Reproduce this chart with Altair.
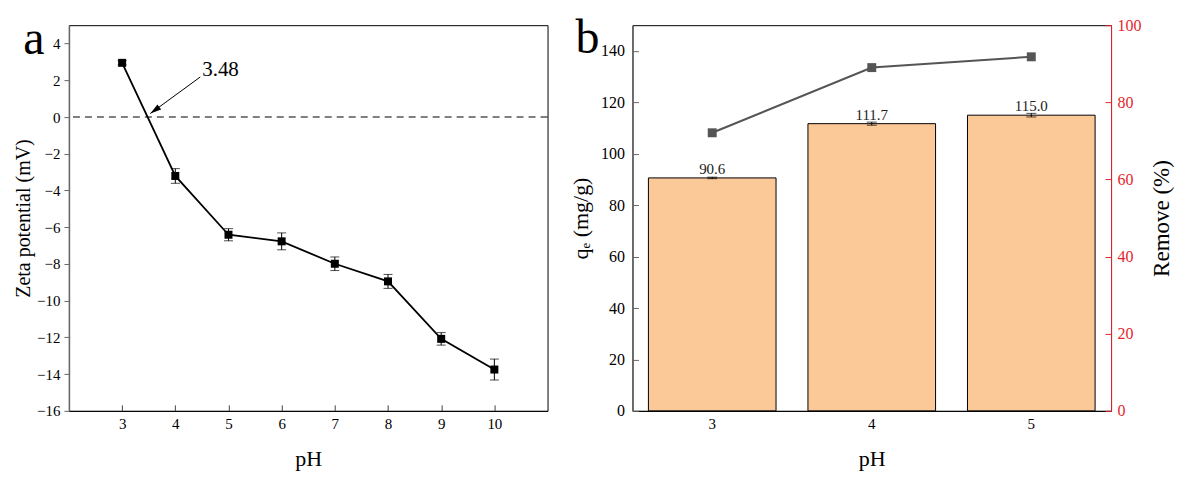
import altair as alt
import pandas as pd

FONT = "Liberation Serif"

# ---------------- Panel a data ----------------
ph_a = [3, 4, 5, 6, 7, 8, 9, 10]
zeta = [2.95, -3.21, -6.41, -6.77, -7.99, -8.95, -12.08, -13.75]
zeta_err = [0.12, 0.40, 0.33, 0.46, 0.37, 0.38, 0.34, 0.57]
x_ticks_a = [3, 4, 5, 6, 7, 8, 9, 10]
y_ticks_a = [-16, -14, -12, -10, -8, -6, -4, -2, 0, 2, 4]
zero_label = ["3.48"]
zero_label_x = [4.85]
zero_label_y = [2.55]
arrow_x = [4.47, 3.53]
arrow_y = [2.18, 0.19]

# ---------------- Panel b data ----------------
ph_b = ["3", "4", "5"]
qe = [90.6, 111.7, 115.0]
qe_err = [0.3, 0.6, 0.7]
qe_labels = ["90.6", "111.7", "115.0"]
removal = [72.1, 89.0, 91.8]
y_ticks_b = [0, 20, 40, 60, 80, 100, 120, 140]
y_ticks_b_right = [0, 20, 40, 60, 80, 100]

W, H = 479, 386
RED = "#E4262B"
GRAY_AX = "#666666"

df_a = pd.DataFrame({
    "pH": ph_a, "zeta": zeta,
    "lo": [v - e for v, e in zip(zeta, zeta_err)],
    "hi": [v + e for v, e in zip(zeta, zeta_err)],
})
df_arrow = pd.DataFrame({"pH": arrow_x, "zeta": arrow_y, "o": [0, 1]})
df_tip = pd.DataFrame({"pH": arrow_x[1:], "zeta": arrow_y[1:]})
df_lab = pd.DataFrame({"pH": zero_label_x, "zeta": zero_label_y, "t": zero_label})

xs_a = alt.Scale(domain=[2, 11], nice=False, zero=False)
ys_a = alt.Scale(domain=[-16, 5], nice=False, zero=False)

x_axis_a = alt.Axis(values=x_ticks_a, title="pH", tickSize={"expr": "-6"},
                    tickColor="#444", domainColor="black", labelPadding=12,
                    titlePadding=17, titleFontSize=22, labelFontSize=15, grid=False)
y_axis_a = alt.Axis(values=y_ticks_a, title="Zeta potential (mV)", tickSize=5,
                    tickColor=GRAY_AX, domainColor=GRAY_AX, domainWidth=1.5,
                    labelPadding=4, titlePadding=3, titleFontSize=20,
                    labelFontSize=15, grid=False)

XA = alt.X("pH:Q", scale=xs_a, axis=x_axis_a)


def YA(field):
    return alt.Y(field, scale=ys_a, axis=y_axis_a)


base_a = alt.Chart(df_a)
zero_rule = alt.Chart(pd.DataFrame({"zeta": [0]})).mark_rule(
    color="black", strokeDash=[7, 5], strokeWidth=1
).encode(y=YA("zeta:Q"))
line_a = base_a.mark_line(color="black", strokeWidth=1.8).encode(x=XA, y=YA("zeta:Q"))
err_a = base_a.mark_rule(color="black", strokeWidth=1).encode(
    x=XA, y=YA("lo:Q"), y2="hi:Q")
cap_lo = base_a.mark_tick(orient="horizontal", size=9, thickness=1, color="black").encode(
    x=XA, y=YA("lo:Q"))
cap_hi = base_a.mark_tick(orient="horizontal", size=9, thickness=1, color="black").encode(
    x=XA, y=YA("hi:Q"))
pts_a = base_a.mark_point(shape="square", filled=True, size=64, color="black", opacity=1).encode(
    x=XA, y=YA("zeta:Q"))
arrow_line = alt.Chart(df_arrow).mark_line(color="black", strokeWidth=1).encode(
    x=XA, y=YA("zeta:Q"), order="o:Q")
arrow_head = alt.Chart(df_tip).mark_point(
    shape="M 0 0 L -0.28 1 L 0.28 1 Z", filled=True, size=500, angle=233.8,
    color="black", opacity=1, strokeWidth=0
).encode(x=XA, y=YA("zeta:Q"))
lab_a = alt.Chart(df_lab).mark_text(font=FONT, fontSize=21, align="center", baseline="middle",
                                    color="black").encode(
    x=XA, y=YA("zeta:Q"), text="t:N")
letter_a = alt.Chart(pd.DataFrame({"t": ["a"]})).mark_text(
    font=FONT, fontSize=48, align="center", baseline="alphabetic", color="black"
).encode(x=alt.value(-35), y=alt.value(29), text="t:N")

panel_a = alt.layer(zero_rule, line_a, err_a, cap_lo, cap_hi, pts_a,
                    arrow_line, arrow_head, lab_a, letter_a).properties(width=W, height=H)

# ---------------- Panel b ----------------
df_b = pd.DataFrame({
    "pH": ph_b, "qe": qe, "lab": qe_labels, "removal": removal,
    "lo": [v - e for v, e in zip(qe, qe_err)],
    "hi": [v + e for v, e in zip(qe, qe_err)],
})
xs_b = alt.Scale(paddingInner=0.2, paddingOuter=0.1)
ys_b = alt.Scale(domain=[0, 150], nice=False)
ys_r = alt.Scale(domain=[0, 100], nice=False)

x_axis_b = alt.Axis(title="pH", labelAngle=0, tickSize={"expr": "-6"}, tickColor="#444",
                    domainColor="black", labelPadding=12, titlePadding=17,
                    titleFontSize=22, labelFontSize=15)
y_axis_b = alt.Axis(values=y_ticks_b, title="qₑ (mg/g)", tickSize={"expr": "-6"},
                    tickColor=GRAY_AX, domainColor=GRAY_AX, domainWidth=1.5,
                    labelPadding=14, titlePadding=8, titleFontSize=22, labelFontSize=16,
                    grid=False)
y_axis_r = alt.Axis(values=y_ticks_b_right, orient="right", title="Remove (%)",
                    tickSize={"expr": "-6"}, tickColor=RED, domainColor=RED,
                    labelColor=RED, labelPadding=12, titlePadding=9,
                    titleAngle=270, titleBaseline="top",
                    titleFontSize=23, labelFontSize=16, grid=False)

XB = alt.X("pH:O", scale=xs_b, axis=x_axis_b, sort=ph_b)


def YB(field):
    return alt.Y(field, scale=ys_b, axis=y_axis_b)


def YR(field):
    return alt.Y(field, scale=ys_r, axis=y_axis_r)


base_b = alt.Chart(df_b)
bars = base_b.mark_bar(color="#FBC898", stroke="black", strokeWidth=1).encode(
    x=XB, y=YB("qe:Q"))
err_b = base_b.mark_rule(color="black", strokeWidth=1).encode(
    x=XB, y=YB("lo:Q"), y2="hi:Q")
caps_b_lo = base_b.mark_tick(orient="horizontal", size=10, thickness=1, color="black").encode(
    x=XB, y=YB("lo:Q"))
caps_b_hi = base_b.mark_tick(orient="horizontal", size=10, thickness=1, color="black").encode(
    x=XB, y=YB("hi:Q"))
txt_b = base_b.mark_text(font=FONT, fontSize=15, baseline="alphabetic", dy=-4,
                         color="#222").encode(
    x=XB, y=YB("qe:Q"), text="lab:N")
letter_b = alt.Chart(pd.DataFrame({"t": ["b"]})).mark_text(
    font=FONT, fontSize=48, align="center", baseline="alphabetic", color="black"
).encode(x=alt.value(-45), y=alt.value(28), text="t:N")

left_b = alt.layer(bars, err_b, caps_b_lo, caps_b_hi, txt_b, letter_b)

line_b = base_b.mark_line(color="#555555", strokeWidth=2).encode(x=XB, y=YR("removal:Q"))
pts_b = base_b.mark_point(shape="square", filled=True, size=80, color="#555555", opacity=1).encode(
    x=XB, y=YR("removal:Q"))
right_b = alt.layer(line_b, pts_b)

panel_b = alt.layer(left_b, right_b).resolve_scale(y="independent").properties(width=W, height=H)

chart = alt.hconcat(panel_a, panel_b, spacing=85, bounds="flush").properties(
    padding={"left": 5, "top": 6, "right": 5, "bottom": 5}
).configure_view(stroke="black", strokeWidth=1).configure_axis(
    labelFont=FONT, titleFont=FONT, titleFontWeight="normal", labelColor="black",
    titleColor="black"
)

chart.save("out.html", embed_options={"renderer": "svg", "actions": False})
